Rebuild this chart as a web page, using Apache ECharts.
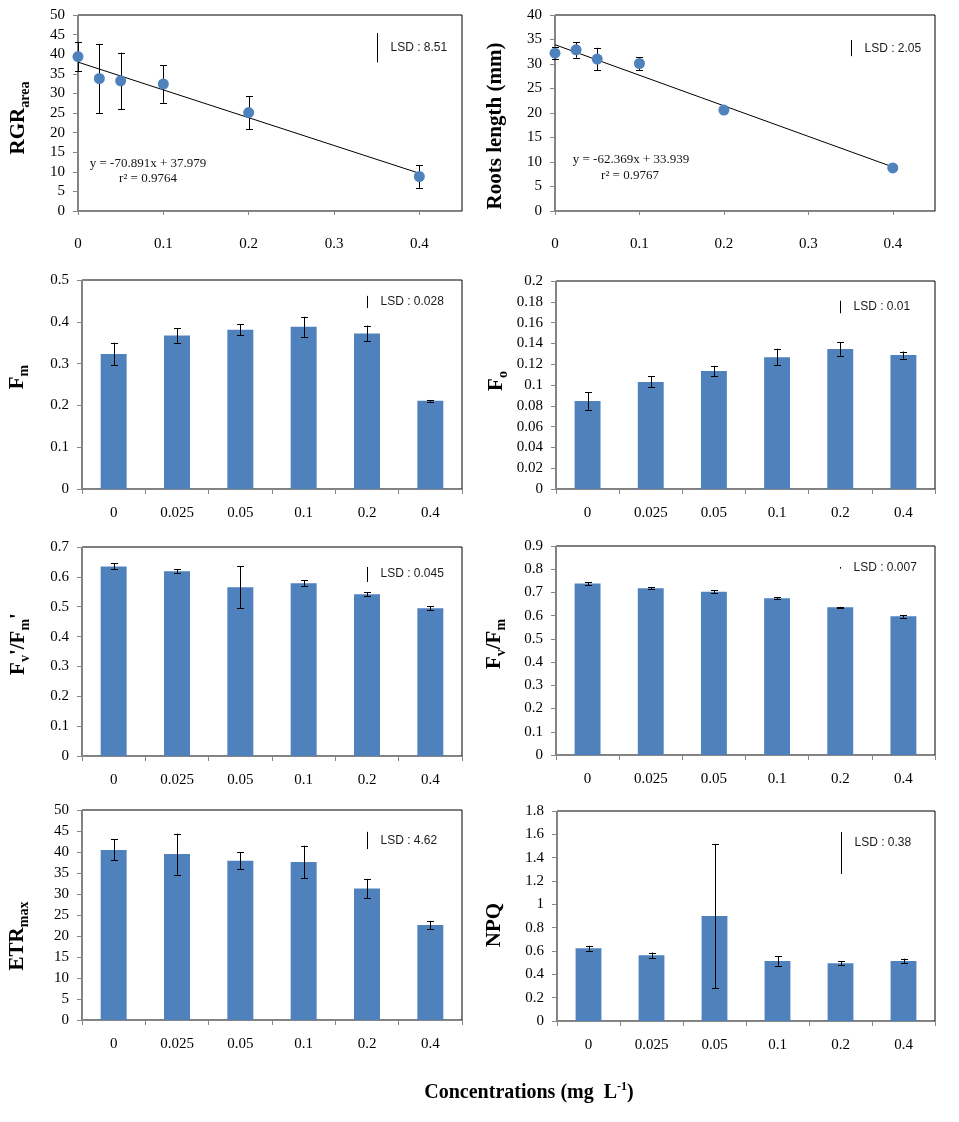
<!DOCTYPE html>
<html>
<head>
<meta charset="utf-8">
<script src="https://cdn.jsdelivr.net/npm/echarts@6/dist/echarts.min.js"></script>
<style>
html,body{margin:0;padding:0;background:#fff;}
#c{width:959px;height:1122px;}
</style>
</head>
<body>
<div id="c"></div>
<script>
// ---------------- DATA ----------------
const categories = ['0', '0.025', '0.05', '0.1', '0.2', '0.4'];
const concX = [0, 0.025, 0.05, 0.1, 0.2, 0.4];

const rgrMean = [39.4, 33.8, 33.2, 32.4, 25.1, 8.8];
const rgrErr  = [3.8, 8.8, 7.2, 4.8, 4.2, 2.9];
const rgrFit  = {slope: -70.891, intercept: 37.979, r2: '0.9764'};

const rootMean = [32.2, 32.9, 31.0, 30.1, 20.6, 8.8];
const rootErr  = [1.2, 1.6, 2.3, 1.3, 0.5, 0.3];
const rootFit  = {slope: -62.369, intercept: 33.939, r2: '0.9767'};

const fmMean  = [0.323, 0.367, 0.381, 0.388, 0.372, 0.211];
const fmErr   = [0.027, 0.017, 0.013, 0.024, 0.019, 0.002];
const foMean  = [0.0847, 0.103, 0.1134, 0.1268, 0.1345, 0.1288];
const foErr   = [0.0085, 0.0053, 0.005, 0.008, 0.0064, 0.0034];
const fvpMean = [0.635, 0.619, 0.565, 0.579, 0.542, 0.495];
const fvpErr  = [0.01, 0.007, 0.07, 0.01, 0.007, 0.007];
const fvMean  = [0.738, 0.718, 0.703, 0.675, 0.636, 0.597];
const fvErr   = [0.006, 0.004, 0.006, 0.004, 0.002, 0.006];
const etrMean = [40.5, 39.5, 37.9, 37.6, 31.3, 22.6];
const etrErr  = [2.5, 4.9, 2.0, 3.9, 2.3, 1.0];
const npqMean = [0.624, 0.564, 0.899, 0.515, 0.495, 0.515];
const npqErr  = [0.02, 0.023, 0.618, 0.04, 0.018, 0.02];

// LSD markers: label, [low, high] of the drawn segment, label level
const lsdLabels = ['8.51', '2.05', '0.028', '0.01', '0.045', '0.007', '4.62', '0.38'];
const lsdSegs = [[37.9, 45.4], [31.6, 34.9], [0.433, 0.462], [0.169, 0.181],
                 [0.583, 0.633], [0.8025, 0.8095], [40.7, 44.8], [1.26, 1.62]];
const lsdLabelY = [41.6, 33.2, 0.447, 0.175, 0.611, 0.806, 42.6, 1.525];

// y-axis ranges
const yMax = [50, 40, 0.5, 0.2, 0.7, 0.9, 50, 1.8];
const yStep = [5, 5, 0.1, 0.02, 0.1, 0.1, 5, 0.2];

// ---------------- LAYOUT ----------------
const grids = [
  {left: 78,  top: 15,  width: 384, height: 196},
  {left: 555, top: 15,  width: 380, height: 196},
  {left: 82,  top: 280, width: 380, height: 209},
  {left: 556, top: 281, width: 379, height: 208},
  {left: 82,  top: 547, width: 380, height: 209},
  {left: 556, top: 546, width: 379, height: 209},
  {left: 82,  top: 810, width: 380, height: 210},
  {left: 557, top: 811, width: 378, height: 210}
];

const BLUE = '#4F81BD';
const AXIS = '#868686';
const SERIF = '"Liberation Serif","Times New Roman",serif';
const SANS = '"Liberation Sans",Arial,sans-serif';

const barMeans = [fmMean, foMean, fvpMean, fvMean, etrMean, npqMean];
const barErrs  = [fmErr, foErr, fvpErr, fvErr, etrErr, npqErr];

function errRender(params, api) {
  const x = api.value(0), m = api.value(1), e = api.value(2);
  const t = api.coord([x, m + e]);
  const b = api.coord([x, m - e]);
  const cx = Math.round(t[0]) + 0.5;
  const cw = 3.5;
  const st = {stroke: '#000', lineWidth: 1};
  return {
    type: 'group',
    children: [
      {type: 'line', shape: {x1: cx, y1: t[1], x2: cx, y2: b[1]}, style: st},
      {type: 'line', shape: {x1: cx - cw, y1: Math.round(t[1]) + 0.5, x2: cx + cw, y2: Math.round(t[1]) + 0.5}, style: st},
      {type: 'line', shape: {x1: cx - cw, y1: Math.round(b[1]) + 0.5, x2: cx + cw, y2: Math.round(b[1]) + 0.5}, style: st}
    ]
  };
}

function lsdRender(params, api) {
  const x = api.value(0), lo = api.value(1), hi = api.value(2), ly = api.value(3);
  const pT = api.coord([x, hi]);
  const pB = api.coord([x, lo]);
  const pL = api.coord([x, ly]);
  const cx = Math.round(pT[0]) + 0.5;
  return {
    type: 'group',
    children: [
      {type: 'line', shape: {x1: cx, y1: pT[1], x2: cx, y2: pB[1]}, style: {stroke: '#000', lineWidth: 1}},
      {type: 'text', x: cx + 13, y: pL[1],
       style: {text: 'LSD : ' + lsdLabels[params.seriesIndex >= 0 ? lsdIndexOf[params.seriesIndex] : 0],
               font: '12px ' + SANS, fill: '#1a1a1a', verticalAlign: 'middle', align: 'left'}}
    ]
  };
}
const lsdIndexOf = {};

const xAxes = [], yAxes = [], series = [];

for (let i = 0; i < 8; i++) {
  const isScatter = i < 2;
  if (isScatter) {
    xAxes.push({
      type: 'value', gridIndex: i, min: 0, max: 0.45, interval: 0.1,
      axisLine: {lineStyle: {color: AXIS}},
      axisTick: {show: true, inside: false, length: 4, lineStyle: {color: AXIS}},
      splitLine: {show: false},
      axisLabel: {showMaxLabel: false, margin: 26, color: '#000', fontFamily: SERIF, fontSize: 15}
    });
  } else {
    xAxes.push({
      type: 'category', gridIndex: i, data: categories,
      axisLine: {lineStyle: {color: AXIS}},
      axisTick: {show: true, length: 5, lineStyle: {color: AXIS}},
      axisLabel: {margin: 17, color: '#000', fontFamily: SERIF, fontSize: 15}
    });
  }
  yAxes.push({
    type: 'value', gridIndex: i, min: 0, max: yMax[i], interval: yStep[i],
    axisLine: {show: true, lineStyle: {color: AXIS}},
    axisTick: {show: true, length: 5, lineStyle: {color: AXIS}},
    splitLine: {show: false},
    axisLabel: {margin: 13, color: '#000', fontFamily: SERIF, fontSize: 15}
  });

  const base = {xAxisIndex: i, yAxisIndex: i};
  if (isScatter) {
    const mean = i === 0 ? rgrMean : rootMean;
    const err = i === 0 ? rgrErr : rootErr;
    const fit = i === 0 ? rgrFit : rootFit;
    series.push(Object.assign({
      type: 'line', silent: true, symbol: 'none', z: 2,
      lineStyle: {color: '#000', width: 1},
      data: [[concX[0], fit.intercept], [concX[concX.length - 1], fit.slope * concX[concX.length - 1] + fit.intercept]]
    }, base));
    series.push(Object.assign({
      type: 'custom', renderItem: errRender, z: 3, silent: true,
      data: concX.map((x, j) => [x, mean[j], err[j]])
    }, base));
    series.push(Object.assign({
      type: 'scatter', symbol: 'circle', symbolSize: 11, z: 4,
      itemStyle: {color: BLUE, opacity: 1},
      data: concX.map((x, j) => [x, mean[j]])
    }, base));
    lsdIndexOf[series.length] = i;
    series.push(Object.assign({
      type: 'custom', renderItem: lsdRender, z: 5, silent: true,
      data: [[0.35, lsdSegs[i][0], lsdSegs[i][1], lsdLabelY[i]]]
    }, base));
  } else {
    const mean = barMeans[i - 2], err = barErrs[i - 2];
    series.push(Object.assign({
      type: 'bar', barWidth: '41%', z: 2,
      itemStyle: {color: BLUE},
      data: mean
    }, base));
    series.push(Object.assign({
      type: 'custom', renderItem: errRender, z: 3, silent: true,
      data: mean.map((m, j) => [j, m, err[j]])
    }, base));
    lsdIndexOf[series.length] = i;
    series.push(Object.assign({
      type: 'custom', renderItem: lsdRender, z: 5, silent: true,
      data: [[4, lsdSegs[i][0], lsdSegs[i][1], lsdLabelY[i]]]
    }, base));
  }
}

// y-axis titles (rotated rich text)
const B = {fontFamily: SERIF, fontWeight: 'bold', fontSize: 21, lineHeight: 26, fill: '#000', verticalAlign: 'middle'};
const S = {fontFamily: SERIF, fontWeight: 'bold', fontSize: 14, lineHeight: 14, fill: '#000', verticalAlign: 'bottom'};
const yTitles = [
  {x: 19,  y: 118, text: '{b|RGR}{s|area}'},
  {x: 496, y: 126, text: '{b|Roots length (mm)}'},
  {x: 18,  y: 377, text: '{b|F}{s|m}'},
  {x: 497, y: 381, text: '{b|F}{s|o}'},
  {x: 19,  y: 644, text: "{b|F}{s|v}{b|'/F}{s|m}{b|'}"},
  {x: 495, y: 644, text: '{b|F}{s|v}{b|/F}{s|m}'},
  {x: 18,  y: 936, text: '{b|ETR}{s|max}'},
  {x: 495, y: 925, text: '{b|NPQ}'}
];

const graphics = yTitles.map(t => ({
  type: 'text', x: t.x, y: t.y, rotation: Math.PI / 2,
  style: {text: t.text, align: 'center', verticalAlign: 'middle', rich: {b: B, s: S}}
}));

// regression equations
const eqStyle = {font: '13px ' + SERIF, fill: '#111', align: 'center', verticalAlign: 'middle'};
function fmtEq(f) { return 'y = ' + f.slope.toFixed(3) + 'x + ' + f.intercept.toFixed(3); }
graphics.push({type: 'text', x: 148, y: 164, style: Object.assign({text: fmtEq(rgrFit)}, eqStyle)});
graphics.push({type: 'text', x: 148, y: 179, style: Object.assign({text: 'r² = ' + rgrFit.r2}, eqStyle)});
graphics.push({type: 'text', x: 631, y: 160, style: Object.assign({text: fmtEq(rootFit)}, eqStyle)});
graphics.push({type: 'text', x: 630, y: 176, style: Object.assign({text: 'r² = ' + rootFit.r2}, eqStyle)});

// common x title
graphics.push({
  type: 'text', x: 529, y: 1093,
  style: {
    text: '{b|Concentrations (mg  L}{p|-1}{b|)}', align: 'center', verticalAlign: 'middle',
    rich: {
      b: {fontFamily: SERIF, fontWeight: 'bold', fontSize: 20, lineHeight: 24, fill: '#000', verticalAlign: 'middle'},
      p: {fontFamily: SERIF, fontWeight: 'bold', fontSize: 12, lineHeight: 12, fill: '#000', verticalAlign: 'top'}
    }
  }
});

const chart = echarts.init(document.getElementById('c'), null, {renderer: 'canvas'});
chart.setOption({
  animation: false,
  backgroundColor: '#fff',
  grid: grids.map(g => Object.assign({show: true, borderColor: '#000', borderWidth: 1, backgroundColor: 'transparent', containLabel: false}, g)),
  xAxis: xAxes,
  yAxis: yAxes,
  series: series,
  graphic: graphics
});
</script>
</body>
</html>
